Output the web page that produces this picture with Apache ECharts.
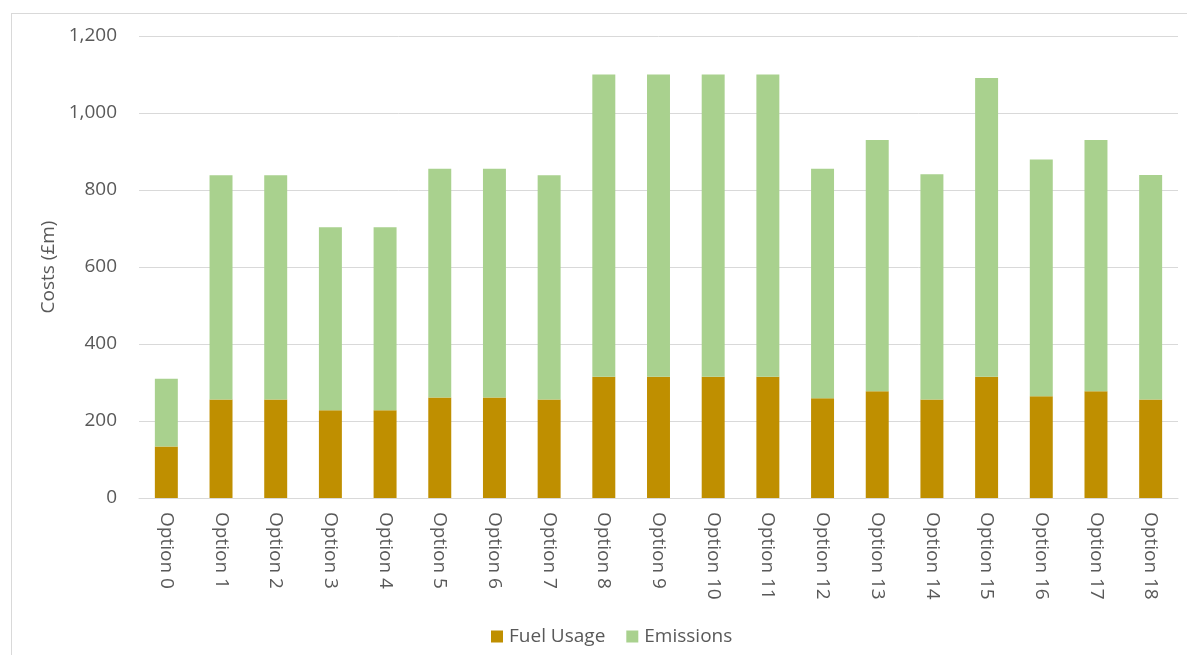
<!DOCTYPE html>
<html>
<head>
<meta charset="utf-8">
<script src="https://cdn.jsdelivr.net/npm/echarts@6/dist/echarts.min.js"></script>
<style>
  html, body { margin: 0; padding: 0; background: #fff; overflow: hidden; }
  #frame {
    position: absolute;
    left: 11px;
    top: 13px;
    width: 1200px;
    height: 660px;
    border-top: 1px solid #d9d9d9;
    border-left: 1px solid #d9d9d9;
  }
  #chart { position: absolute; left: 0; top: 0; width: 1187px; height: 655px; }
</style>
</head>
<body>
<div id="frame"></div>
<div id="chart"></div>
<script>
// 类目
const options = [
  'Option 0', 'Option 1', 'Option 2', 'Option 3', 'Option 4', 'Option 5', 'Option 6',
  'Option 7', 'Option 8', 'Option 9', 'Option 10', 'Option 11', 'Option 12', 'Option 13',
  'Option 14', 'Option 15', 'Option 16', 'Option 17', 'Option 18'
]
// 燃料费用
const fuelUsage = [134, 256, 256, 228, 228, 261, 261, 256, 315, 315, 315, 315, 259, 277, 256, 315, 264, 277, 256]
// 排放费用
const emissions = [176, 582, 582, 475, 475, 594, 594, 582, 785, 785, 785, 785, 596, 653, 585, 776, 615, 653, 583]

const textColor = '#595959'
const lineColor = '#d9d9d9'
const fontFamily = '"Open Sans", sans-serif'

let myChart = echarts.init(document.getElementById('chart'))

myChart.setOption({
  animation: false,
  textStyle: { fontFamily: fontFamily },
  grid: {
    left: 139,
    right: 9,
    top: 36,
    bottom: 157
  },
  legend: {
    top: 622,
    left: 486,
    itemWidth: 12,
    itemHeight: 12,
    itemGap: 21,
    icon: 'rect',
    textStyle: { color: textColor, fontSize: 19, fontFamily: fontFamily, padding: [0, 0, 0, 1] },
    data: ['Fuel Usage', 'Emissions']
  },
  xAxis: {
    type: 'category',
    data: options,
    axisLine: { lineStyle: { color: lineColor, width: 1 } },
    axisTick: { show: false },
    axisLabel: {
      rotate: -90,
      margin: 14,
      color: textColor,
      fontSize: 19,
      interval: 0
    }
  },
  yAxis: {
    type: 'value',
    min: 0,
    max: 1200,
    interval: 200,
    name: 'Costs (£m)',
    nameLocation: 'middle',
    nameGap: 81,
    nameTextStyle: { color: textColor, fontSize: 19 },
    axisLine: { show: false },
    axisTick: { show: false },
    axisLabel: {
      margin: 22,
      color: textColor,
      fontSize: 19,
      formatter: (v) => v.toLocaleString('en-GB')
    },
    splitLine: { lineStyle: { color: lineColor, width: 1 } }
  },
  series: [
    {
      name: 'Fuel Usage',
      type: 'bar',
      stack: 'cost',
      barWidth: '42%',
      itemStyle: { color: '#bf8f00' },
      data: fuelUsage
    },
    {
      name: 'Emissions',
      type: 'bar',
      stack: 'cost',
      barWidth: '42%',
      itemStyle: { color: '#a9d18e' },
      data: emissions
    }
  ]
})
</script>
</body>
</html>
